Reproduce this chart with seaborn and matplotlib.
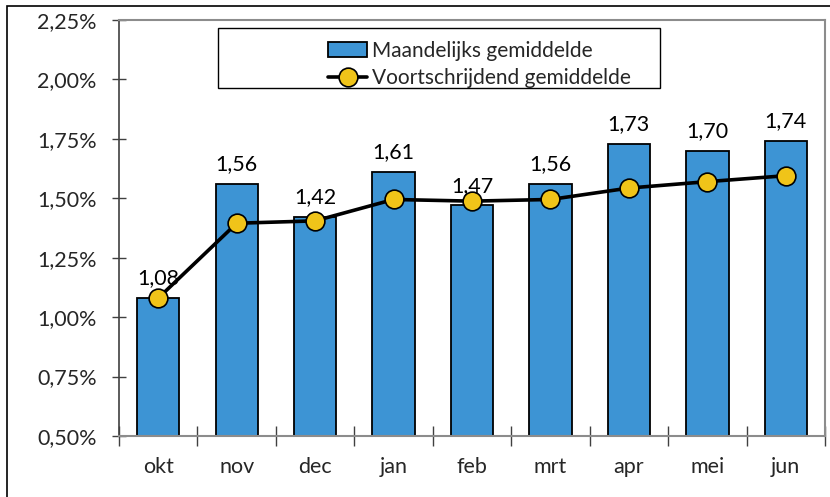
import matplotlib
matplotlib.use("Agg")
import matplotlib.pyplot as plt
import matplotlib.ticker as mticker
from matplotlib.patches import Rectangle
from matplotlib.lines import Line2D
import seaborn as sns

months = ["okt", "nov", "dec", "jan", "feb", "mrt", "apr", "mei", "jun"]
maandelijks = [1.08, 1.56, 1.42, 1.61, 1.47, 1.56, 1.73, 1.70, 1.74]
voortschrijdend = [1.08, 1.395, 1.405, 1.495, 1.488, 1.495, 1.543, 1.57, 1.595]
yticks = [0.50, 0.75, 1.00, 1.25, 1.50, 1.75, 2.00, 2.25]

sns.set_theme(style="white")
plt.rcParams["font.family"] = ["Lato", "DejaVu Sans"]

bar_color = "#3d94d4"
dot_color = "#f0c419"
fs = 15.5

fig = plt.figure(figsize=(8.3, 4.97), dpi=100)
ax = fig.add_axes([0.1434, 0.1227, 0.8506, 0.8371])

# outer frame of the chart
fig.patches.append(Rectangle((7 / 830, -0.01), 1.0, 1 - 6 / 497 + 0.01,
                             transform=fig.transFigure, fill=False,
                             edgecolor="black", linewidth=1.2))

sns.barplot(x=months, y=maandelijks, color=bar_color, edgecolor="black",
            linewidth=1.3, width=0.54, saturation=1, ax=ax, zorder=2)
ax.plot(range(len(months)), voortschrijdend, color="black", linewidth=2.6,
        marker="o", markersize=13.5, markerfacecolor=dot_color,
        markeredgecolor="black", markeredgewidth=1.2, zorder=3)

for i, v in enumerate(maandelijks):
    ax.annotate(f"{v:.2f}".replace(".", ","), (i, v), xytext=(0, 7),
                textcoords="offset points", ha="center", va="bottom",
                fontsize=fs, color="black")

ax.set_ylim(0.5, 2.25)
ax.set_xlim(-0.5, len(months) - 0.5)
ax.set_yticks(yticks)
ax.yaxis.set_major_formatter(mticker.FuncFormatter(
    lambda v, p: f"{v:.2f}".replace(".", ",") + "%"))
ax.tick_params(axis="y", which="major", direction="inout", length=10,
               width=1, color="#404040", labelsize=fs, pad=11, left=True)
ax.set_xticks(range(len(months)))
ax.set_xticklabels(months)
ax.tick_params(axis="x", which="major", length=0, labelsize=fs, pad=15)
ax.set_xticks([i - 0.5 for i in range(len(months) + 1)], minor=True)
ax.tick_params(axis="x", which="minor", direction="inout", length=14,
               width=1, color="#404040", bottom=True)
ax.set_xlabel("")
ax.set_ylabel("")

for side in ["top", "right", "bottom"]:
    ax.spines[side].set_color("#8c8c8c")
    ax.spines[side].set_linewidth(1.5)
ax.spines["left"].set_color("#404040")
ax.spines["left"].set_linewidth(1.2)

# legend box
ax.add_patch(Rectangle((0.140, 0.837), 0.626, 0.144, transform=ax.transAxes,
                       facecolor="white", edgecolor="black", linewidth=1.0,
                       zorder=4))
handles = [
    Rectangle((0, 0), 1, 1, facecolor=bar_color, edgecolor="black", linewidth=1.3),
    Line2D([0], [0], color="black", linewidth=2.6, marker="o", markersize=13.5,
           markerfacecolor=dot_color, markeredgecolor="black", markeredgewidth=1.2),
]
leg = ax.legend(handles, ["Maandelijks gemiddelde", "Voortschrijdend gemiddelde"],
                loc="upper left", bbox_to_anchor=(0.275, 0.985), frameon=False,
                fontsize=15, handlelength=1.9, handletextpad=0.2,
                labelspacing=0.35, borderpad=0.2)
leg.set_zorder(5)

fig.savefig("out.png", dpi=100)
